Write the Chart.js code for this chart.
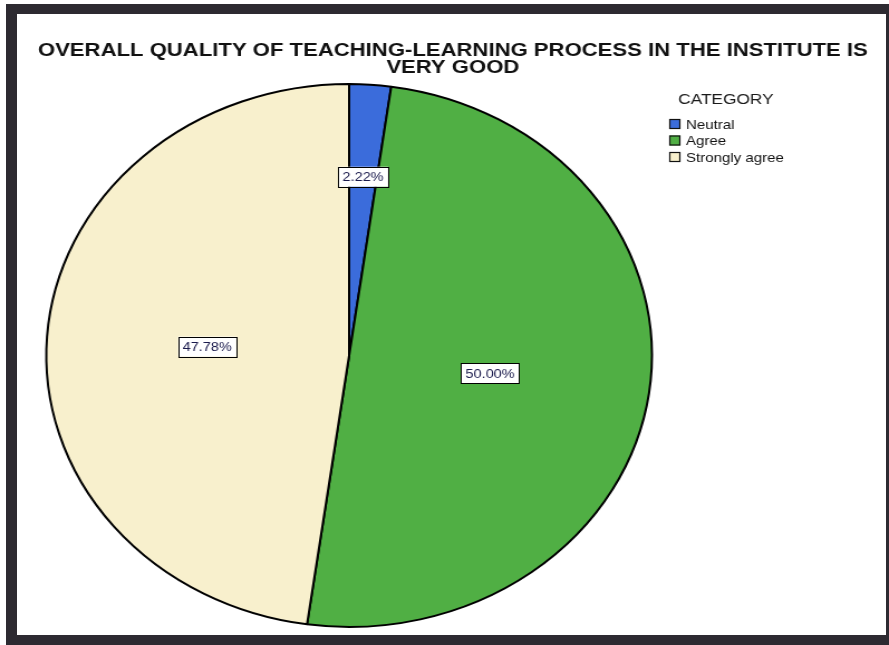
<!DOCTYPE html>
<html>
<head>
<meta charset="utf-8">
<script src="https://cdn.jsdelivr.net/npm/chart.js@4/dist/chart.umd.min.js"></script>
<style>
  html, body { margin: 0; padding: 0; width: 889px; height: 645px; overflow: hidden; background: #fff; }
  /* photo frame around the SPSS output */
  #frame { position: absolute; left: 6px; top: 4px; right: 0; bottom: 0; box-sizing: border-box;
           border-style: solid; border-color: #2d2a31; border-width: 10px 3px 10px 11px; background: #fff; }
  /* the photographed chart is stretched sideways, so the whole canvas is too */
  #chart { position: absolute; left: 0; top: 0; transform: scaleX(1.1154); transform-origin: 0 0; }
</style>
</head>
<body>
<div id="frame"></div>
<canvas id="chart" width="797" height="645"></canvas>
<script>
const titleLines = ['OVERALL QUALITY OF TEACHING-LEARNING PROCESS IN THE INSTITUTE IS', 'VERY GOOD'];
const legendTitle = 'CATEGORY';
const categories = ['Neutral', 'Agree', 'Strongly agree'];
const percentages = [2.22, 50.00, 47.78];
const sliceColors = ['#3b6cdb', '#50af44', '#f8f0cd'];

const FONT = '"Liberation Sans", Arial, sans-serif';

// Draws the boxed percentage labels, the title and the SPSS style legend
const spssLook = {
    id: 'spssLook',
    afterDatasetsDraw(chart) {
        const ctx = chart.ctx;
        const meta = chart.getDatasetMeta(0);
        ctx.save();

        // slice labels
        ctx.font = '13px ' + FONT;
        ctx.textAlign = 'center';
        ctx.textBaseline = 'middle';
        meta.data.forEach((arc, i) => {
            const p = arc.getProps(['x', 'y', 'startAngle', 'endAngle', 'outerRadius'], true);
            const mid = (p.startAngle + p.endAngle) / 2;
            const f = percentages[i] < 10 ? 0.66 : 0.47;
            const lx = p.x + Math.cos(mid) * p.outerRadius * f;
            const ly = p.y + Math.sin(mid) * p.outerRadius * f;
            const text = percentages[i].toFixed(2) + '%';
            const w = ctx.measureText(text).width + 8;
            const h = 20;
            ctx.fillStyle = '#fff';
            ctx.fillRect(lx - w / 2, ly - h / 2, w, h);
            ctx.strokeStyle = '#000';
            ctx.lineWidth = 1;
            ctx.strokeRect(Math.round(lx - w / 2) + 0.5, Math.round(ly - h / 2) + 0.5, Math.round(w), h);
            ctx.fillStyle = '#1b1b4d';
            ctx.fillText(text, lx, ly + 1);
        });

        // title, squeezed to the width it has in the picture
        ctx.font = 'bold 18px ' + FONT;
        ctx.fillStyle = '#111';
        const squeeze = 744 / ctx.measureText(titleLines[0]).width;
        titleLines.forEach((line, i) => {
            ctx.save();
            ctx.translate(406, 51 + i * 17);
            ctx.scale(squeeze, 1);
            ctx.fillText(line, 0, 0);
            ctx.restore();
        });

        // legend
        ctx.textAlign = 'left';
        ctx.font = '15.5px ' + FONT;
        ctx.fillStyle = '#1a1a1a';
        ctx.fillText(legendTitle, 608, 100);
        ctx.font = '13.5px ' + FONT;
        categories.forEach((name, i) => {
            const y = 124 + i * 16.5;
            ctx.fillStyle = sliceColors[i];
            ctx.fillRect(600, y - 5, 10, 10);
            ctx.strokeStyle = '#111';
            ctx.lineWidth = 1.2;
            ctx.strokeRect(600.5, y - 4.5, 9, 9);
            ctx.fillStyle = '#111';
            ctx.fillText(name, 615, y + 1);
        });

        ctx.restore();
    }
};

new Chart(document.getElementById('chart'), {
    type: 'pie',
    data: {
        labels: categories,
        datasets: [{
            data: percentages,
            backgroundColor: sliceColors,
            borderColor: '#000',
            borderWidth: 2
        }]
    },
    options: {
        responsive: false,
        animation: false,
        events: [],
        layout: { padding: { top: 83, bottom: 17, left: 0, right: 171 } },
        plugins: {
            legend: { display: false },
            title: { display: false },
            tooltip: { enabled: false }
        }
    },
    plugins: [spssLook]
});
</script>
</body>
</html>
